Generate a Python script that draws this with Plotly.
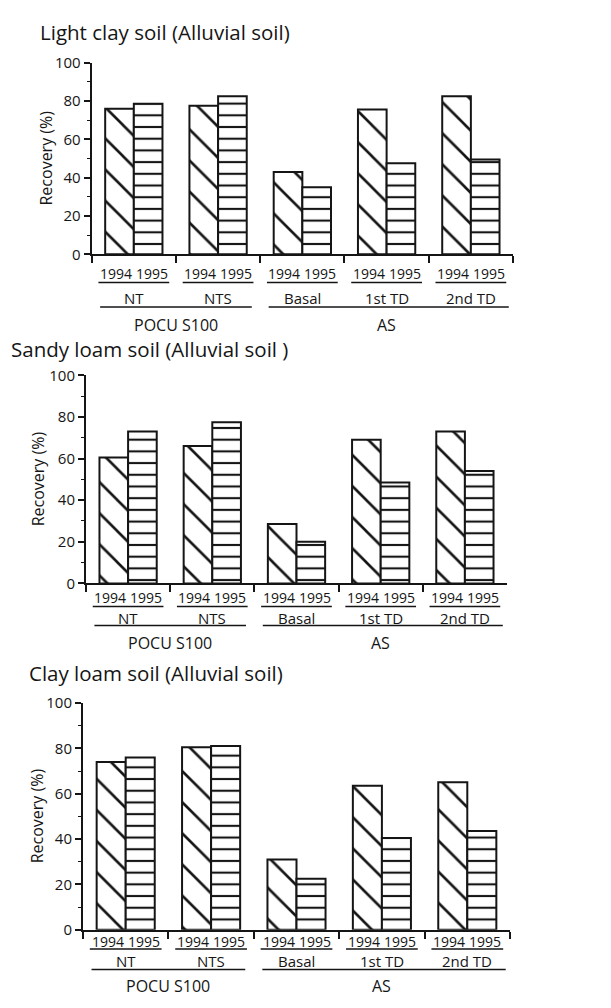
import plotly.graph_objects as go

# ---------------- data ----------------
groups = ["NT", "NTS", "Basal", "1st TD", "2nd TD"]
years = ["1994", "1995"]
supergroups = ["POCU S100", "AS"]
panel_titles = ["Light clay soil (Alluvial soil)",
                "Sandy loam soil (Alluvial soil )",
                "Clay loam soil (Alluvial soil)"]
light_clay_1994 = [76, 77.5, 43, 75.5, 82.5]
light_clay_1995 = [78.5, 82.5, 35, 47.5, 49.5]
sandy_loam_1994 = [60.5, 66, 28.5, 69, 73]
sandy_loam_1995 = [73, 77.5, 20, 48.5, 54]
clay_loam_1994 = [74, 80.5, 31, 63.5, 65]
clay_loam_1995 = [76, 81, 22.5, 40.5, 43.5]
y_ticks = [0, 20, 40, 60, 80, 100]
y_label = "Recovery (%)"

W, H = 611, 1008
ink = "#151515"
FONT = "Open Sans"

def px_x(v):
    return v / W

def px_y(v):
    return 1 - v / H

# panel geometry in pixels
panels = [
    dict(x0=91.7, x1=513, ytop=52.7, ybot=248.3, tx=38, ty=21, lx=46,
         yr=268, yu=277, gr=292.5, gl=302, sr=320),
    dict(x0=86, x1=507, ytop=371.7, ybot=584, tx=9, ty=345, lx=38,
         yr=598, yu=607.5, gr=619, gl=627, sr=645),
    dict(x0=83, x1=510, ytop=706, ybot=937.3, tx=27, ty=675, lx=37,
         yr=949, yu=957, gr=969, gl=978, sr=995),
]
series = [(light_clay_1994, light_clay_1995),
          (sandy_loam_1994, sandy_loam_1995),
          (clay_loam_1994, clay_loam_1995)]

bargap = 0.32

fig = go.Figure()
annotations = []
shapes = []
layout_axes = {}

for k, ((v94, v95), p) in enumerate(zip(series, panels)):
    sfx = "" if k == 0 else str(k + 1)
    xa, ya = "x" + sfx, "y" + sfx
    for yr, vals, shape, size, sol in [(years[0], v94, "\\", 22, 0.12),
                                       (years[1], v95, "-", 11.7, 0.18)]:
        fig.add_trace(go.Bar(
            x=groups, y=vals, name=yr, xaxis=xa, yaxis=ya, offsetgroup=yr,
            showlegend=False,
            marker=dict(color="white", line=dict(color=ink, width=2),
                        pattern=dict(shape=shape, size=size, solidity=sol,
                                     fgcolor=ink, bgcolor="white",
                                     fillmode="replace")),
        ))
    layout_axes["xaxis" + sfx] = dict(
        domain=[px_x(p["x0"]), px_x(p["x1"])], anchor=ya, type="category",
        range=[-0.5, len(groups) - 0.5], showline=True, linecolor=ink,
        linewidth=2, ticks="outside", tickson="boundaries", ticklen=7,
        tickwidth=1.5, tickcolor=ink, showticklabels=False, showgrid=False,
        zeroline=False, fixedrange=True)
    layout_axes["yaxis" + sfx] = dict(
        domain=[px_y(p["ybot"]), px_y(p["ytop"])], anchor=xa, range=[0, 100],
        tickvals=y_ticks, ticks="outside", ticklen=6, tickwidth=1.5,
        tickcolor=ink, minor=dict(ticks="outside", ticklen=3, dtick=10,
                                  tickcolor=ink, tickwidth=1.2),
        showline=True, linecolor=ink, linewidth=2, showgrid=False,
        zeroline=False, tickfont=dict(size=15, color=ink, family=FONT),
        fixedrange=True)

    # panel title
    annotations.append(dict(text=panel_titles[k], xref="paper", yref="paper",
                            x=px_x(p["tx"]), y=px_y(p["ty"]), xanchor="left",
                            yanchor="middle", showarrow=False,
                            font=dict(size=20.5, color=ink, family=FONT)))
    # y label
    annotations.append(dict(text=y_label, xref="paper", yref="paper",
                            x=px_x(p["lx"]), y=px_y((p["ytop"] + p["ybot"]) / 2),
                            textangle=-90, xanchor="center", yanchor="middle",
                            showarrow=False,
                            font=dict(size=16, color=ink, family=FONT)))
    # year labels, group labels
    for i, g in enumerate(groups):
        for j, yr in enumerate(years):
            annotations.append(dict(text=yr, xref=xa, yref="paper",
                                    x=i, xshift=(-1 if j == 0 else 1),
                                    y=px_y(p["yr"]),
                                    xanchor=("right" if j == 0 else "left"),
                                    yanchor="middle", showarrow=False,
                                    borderpad=0,
                                    font=dict(size=14, color=ink, family=FONT)))
        shapes.append(dict(type="line", xref=xa, yref="paper",
                           x0=i - 0.42, x1=i + 0.42, y0=px_y(p["yu"]),
                           y1=px_y(p["yu"]), line=dict(color=ink, width=1.5)))
        annotations.append(dict(text=g, xref=xa, yref="paper", x=i,
                                y=px_y(p["gr"]), xanchor="center",
                                yanchor="middle", showarrow=False,
                                font=dict(size=15, color=ink, family=FONT)))
    # supergroup lines & labels
    for (a, b, c), sg in zip([(-0.4, 1.4, 0.5), (1.6, 4.45, 3.0)], supergroups):
        shapes.append(dict(type="line", xref=xa, yref="paper", x0=a, x1=b,
                           y0=px_y(p["gl"]), y1=px_y(p["gl"]),
                           line=dict(color=ink, width=1.5)))
        annotations.append(dict(text=sg, xref=xa, yref="paper", x=c,
                                y=px_y(p["sr"]), xanchor="center",
                                yanchor="middle", showarrow=False,
                                font=dict(size=16, color=ink, family=FONT)))

fig.update_layout(
    width=W, height=H, margin=dict(l=0, r=0, t=0, b=0),
    paper_bgcolor="white", plot_bgcolor="white",
    barmode="group", bargap=bargap, bargroupgap=0,
    annotations=annotations, shapes=shapes,
    font=dict(family=FONT, color=ink),
    **layout_axes,
)

fig.write_html("out.html")
